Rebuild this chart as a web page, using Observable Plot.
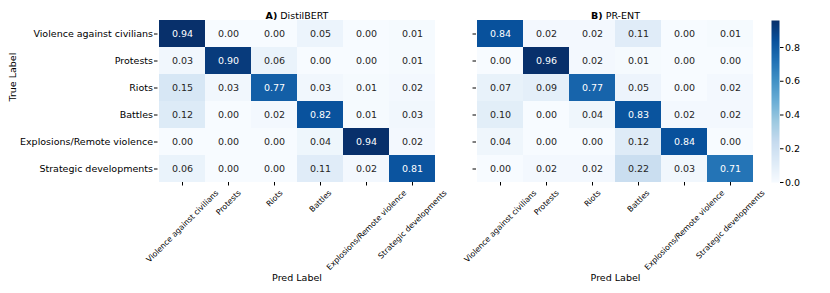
<!DOCTYPE html>
<html>
<head>
<meta charset="utf-8">
<script src="https://cdn.jsdelivr.net/npm/d3@7"></script>
<script src="https://cdn.jsdelivr.net/npm/@observablehq/plot@0.6"></script>
<style>
  html, body { margin: 0; padding: 0; background: white; }
  #chart { position: relative; width: 830px; height: 293px; background: white; overflow: hidden; }
  #chart svg { position: absolute; top: 0; overflow: visible; }
</style>
</head>
<body>
<div id="chart"></div>
<script>
const labels = ["Violence against civilians", "Protests", "Riots", "Battles", "Explosions/Remote violence", "Strategic developments"];

const distilbert = [
  [0.94, 0.00, 0.00, 0.05, 0.00, 0.01],
  [0.03, 0.90, 0.06, 0.00, 0.00, 0.01],
  [0.15, 0.03, 0.77, 0.03, 0.01, 0.02],
  [0.12, 0.00, 0.02, 0.82, 0.01, 0.03],
  [0.00, 0.00, 0.00, 0.04, 0.94, 0.02],
  [0.06, 0.00, 0.00, 0.11, 0.02, 0.81]
];

const prEnt = [
  [0.84, 0.02, 0.02, 0.11, 0.00, 0.01],
  [0.00, 0.96, 0.02, 0.01, 0.00, 0.00],
  [0.07, 0.09, 0.77, 0.05, 0.00, 0.02],
  [0.10, 0.00, 0.04, 0.83, 0.02, 0.02],
  [0.04, 0.00, 0.00, 0.12, 0.84, 0.00],
  [0.00, 0.02, 0.02, 0.22, 0.03, 0.71]
];

const titlesBold = ["A)", "B)"];
const titlesRest = ["DistilBERT", "PR-ENT"];
const colorbarTicks = [0.0, 0.2, 0.4, 0.6, 0.8];

const blues = ["#f7fbff","#deebf7","#c6dbef","#9ecae1","#6baed6","#4292c6","#2171b5","#08519c","#08306b"];
const interp = d3.piecewise(d3.interpolateRgb, blues);
const FONT = "DejaVu Sans";

const ctx = document.createElement("canvas").getContext("2d");
function textWidth(s, size, weight) {
  ctx.font = `${weight || "normal"} ${size}px "${FONT}"`;
  return ctx.measureText(s).width;
}

function toRows(matrix) {
  const out = [];
  matrix.forEach((row, i) => row.forEach((v, j) => out.push({t: labels[i], p: labels[j], v})));
  return out;
}

const chart = document.getElementById("chart");
const H = 293, MT = 20, MB = 111, FW = 278;

function panel(matrix, idx, left, width, marginLeft, showY) {
  const data = toRows(matrix);
  const vmax = d3.max(data, d => d.v);
  const tickFs = 7.8;
  const xLabelMarks = labels.map(lab => {
    const L = textWidth(lab, tickFs);
    const dy = 7 + (L + 0.75 * tickFs) / (2 * Math.SQRT2);
    return Plot.text([lab], {x: d => d, text: d => d, frameAnchor: "bottom", rotate: -45,
      textAnchor: "middle", lineAnchor: "middle", dy, fontSize: tickFs, fill: "black"});
  });
  const tfs = 9.5;
  const wB = textWidth(titlesBold[idx], tfs, "bold");
  const wS = textWidth(" ", tfs);
  const wR = textWidth(titlesRest[idx], tfs);
  const W = wB + wS + wR;
  const marks = [
    Plot.cell(data, {x: "p", y: "t", fill: "v", inset: 0}),
    Plot.text(data.filter(d => d.v > 0.5), {x: "p", y: "t", text: d => d.v.toFixed(2), fill: "white", fontSize: 9.5}),
    Plot.text(data.filter(d => d.v <= 0.5), {x: "p", y: "t", text: d => d.v.toFixed(2), fill: "#262626", fontSize: 9.5}),
    Plot.axisY({tickSize: 3.5, tickPadding: 1.5, fontSize: 9.5, label: null,
      tickFormat: showY ? (d => d) : (() => "")}),
    Plot.axisX({tickSize: 3.5, tickFormat: () => "", label: null}),
    ...xLabelMarks,
    Plot.text(["Pred Label"], {text: d => d, frameAnchor: "bottom", dy: 98, fontSize: 9.5, fill: "black"}),
    Plot.text([titlesBold[idx]], {text: d => d, frameAnchor: "top", dy: -8, dx: -W / 2, textAnchor: "start", fontSize: tfs, fontWeight: "bold", fill: "black"}),
    Plot.text([titlesRest[idx]], {text: d => d, frameAnchor: "top", dy: -8, dx: -W / 2 + wB + wS, textAnchor: "start", fontSize: tfs, fill: "black"})
  ];
  if (showY) {
    marks.push(Plot.text(["True Label"], {text: d => d, frameAnchor: "left", dx: -(marginLeft - 12), rotate: -90, fontSize: 9.5, fill: "black"}));
  }
  const svg = Plot.plot({
    width, height: H,
    marginLeft, marginRight: width - marginLeft - FW, marginTop: MT, marginBottom: MB,
    style: {fontFamily: FONT, fontSize: "9.5px", background: "transparent", color: "black", overflow: "visible"},
    x: {domain: labels, padding: 0, axis: null},
    y: {domain: labels, padding: 0, axis: null},
    color: {type: "linear", domain: [0, vmax], interpolate: () => interp},
    marks
  });
  svg.style.left = left + "px";
  svg.style.overflow = "visible";
  chart.appendChild(svg);
  return vmax;
}

panel(distilbert, 0, 0, 440, 157.5, true);
const vmaxB = panel(prEnt, 1, 440, 320, 36, false);

// colorbar
const cbMarks = [];
if (Plot.raster) {
  cbMarks.push(Plot.raster({fill: (x, y) => y, x1: 0, x2: 1, y1: 0, y2: vmaxB, pixelSize: 1}));
}
cbMarks.push(Plot.axisY(colorbarTicks, {anchor: "right", tickSize: 3.5, tickPadding: 2, fontSize: 9.5,
  tickFormat: d3.format(".1f"), label: null}));
const cb = Plot.plot({
  width: 70, height: H,
  marginLeft: 11, marginRight: 51, marginTop: MT, marginBottom: MB,
  style: {fontFamily: FONT, fontSize: "9.5px", background: "transparent", color: "black"},
  x: {domain: [0, 1], axis: null},
  y: {domain: [0, vmaxB], axis: null},
  color: {type: "linear", domain: [0, vmaxB], interpolate: () => interp},
  marks: cbMarks
});
cb.style.left = "760px";
chart.appendChild(cb);
</script>
</body>
</html>
